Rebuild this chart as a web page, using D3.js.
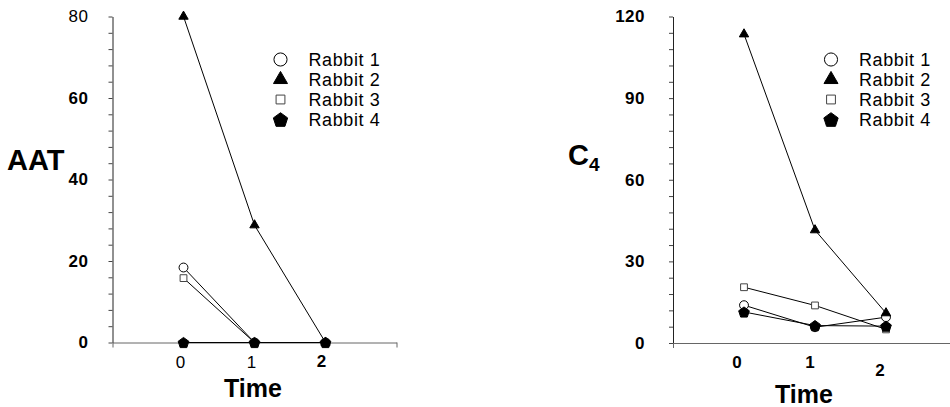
<!DOCTYPE html>
<html>
<head>
<meta charset="utf-8">
<script src="https://cdn.jsdelivr.net/npm/d3@7"></script>
<style>
  body { margin: 0; background: #fff; }
  text { font-family: "Liberation Sans", Arial, sans-serif; }
</style>
</head>
<body>
<div id="chart"></div>
<script>
// data
const times = [0, 1, 2]
const rabbits = ["Rabbit 1", "Rabbit 2", "Rabbit 3", "Rabbit 4"]

const aatRabbit1 = [18.4, 0, 0]
const aatRabbit2 = [80, 28.8, 0]
const aatRabbit3 = [15.8, 0, 0]
const aatRabbit4 = [0, 0, 0]

const c4Rabbit1 = [13.9, 5.8, 9.5]
const c4Rabbit2 = [113.5, 41.5, 11]
const c4Rabbit3 = [20.5, 13.8, 5]
const c4Rabbit4 = [11.4, 6.4, 6.2]

const aatTicks = [0, 20, 40, 60, 80]
const c4Ticks = [0, 30, 60, 90, 120]

const W = 950, H = 407

const svg = d3.select("#chart")
  .append("svg")
  .attr("width", W)
  .attr("height", H)

// pentagon symbol (point up)
const symbolPentagon = {
  draw(context, size) {
    const R = Math.sqrt(size / 2.3776)
    for (let i = 0; i < 5; i++) {
      const a = -Math.PI / 2 + i * 2 * Math.PI / 5
      const px = R * Math.cos(a), py = R * Math.sin(a) + R * 0.1
      if (i === 0) context.moveTo(px, py); else context.lineTo(px, py)
    }
    context.closePath()
  }
}

// marker styles per rabbit
const markers = [
  {type: d3.symbolCircle, size: 62, legendSize: 135, fill: "#fff", stroke: "#000"},
  {type: d3.symbolTriangle, size: 38, legendSize: 85, fill: "#000", stroke: "#000"},
  {type: d3.symbolSquare, size: 46, legendSize: 78, fill: "#fff", stroke: "#444"},
  {type: symbolPentagon, size: 75, legendSize: 135, fill: "#000", stroke: "#000"}
]

const drawPanel = (opt) => {
  const g = svg.append("g")
  const x = d3.scaleLinear().domain([-1, 3]).range([opt.x0, opt.x0 + 284])
  const y = d3.scaleLinear().domain([0, opt.yMax]).range([opt.yBottom, 16.5])

  // y axis with minor ticks
  const yAxis = g.append("g")
    .attr("transform", `translate(${opt.x0}, 0)`)
    .call(d3.axisLeft(y)
      .tickValues(d3.range(0, opt.yMax + 0.001, opt.minor))
      .tickSize(4)
      .tickSizeOuter(0)
      .tickPadding(opt.yPad)
      .tickFormat(d => opt.yTicks.includes(d) ? d : ""))
  yAxis.select(".domain").attr("stroke", "#222")
  yAxis.selectAll(".tick line").attr("stroke", "#444")
  yAxis.selectAll(".tick text")
    .style("font-size", "17px")
    .style("letter-spacing", "0.5px")
    .style("font-weight", d => opt.lightY.includes(d) ? "normal" : "bold")
    .attr("fill", "#000")

  // x axis line with end ticks only
  const xAxis = g.append("g")
    .attr("transform", `translate(0, ${opt.yBottom})`)
    .call(d3.axisBottom(x).tickValues([-1, 3]).tickSize(5).tickSizeOuter(0).tickFormat(""))
  xAxis.select(".domain").attr("stroke", "#666")
  xAxis.selectAll(".tick line").attr("stroke", "#666")

  // x category labels
  g.selectAll(".xlab")
    .data(times)
    .join("text")
    .attr("class", "xlab")
    .attr("x", d => x(d) + opt.xLabDx[d])
    .attr("y", d => opt.yBottom + opt.xLabDy[d])
    .attr("text-anchor", "middle")
    .style("font-size", "17px")
    .style("font-weight", d => opt.lightX.includes(d) ? "normal" : "bold")
    .text(d => d)

  // lines
  const line = d3.line().x((d, i) => x(times[i])).y(d => y(d))
  opt.series.forEach((s) => {
    g.append("path")
      .datum(s)
      .attr("d", line)
      .attr("fill", "none")
      .attr("stroke", "#000")
      .attr("stroke-width", 1)
  })

  // markers
  opt.series.forEach((s, k) => {
    const m = markers[k]
    g.selectAll(null)
      .data(s)
      .join("path")
      .attr("transform", (d, i) => `translate(${x(times[i])}, ${y(d)})`)
      .attr("d", d3.symbol().type(m.type).size(m.size))
      .attr("fill", m.fill)
      .attr("stroke", m.stroke)
      .attr("stroke-width", 1)
  })

  // legend
  const lg = g.append("g").attr("transform", `translate(${opt.legendX}, 59.5)`)
  rabbits.forEach((r, k) => {
    const m = markers[k]
    lg.append("path")
      .attr("transform", `translate(0, ${k * 20})`)
      .attr("d", d3.symbol().type(m.type).size(m.legendSize))
      .attr("fill", m.fill)
      .attr("stroke", m.stroke)
      .attr("stroke-width", 1)
    lg.append("text")
      .attr("x", 28)
      .attr("y", k * 20 + 6.5)
      .style("font-size", "18px")
      .style("letter-spacing", "0.6px")
      .text(r)
  })

  // axis titles
  g.append("text")
    .attr("x", opt.titleX)
    .attr("y", opt.timeY)
    .attr("text-anchor", "middle")
    .style("font-size", "25px")
    .style("font-weight", "bold")
    .text("Time")

  return g
}

const left = drawPanel({
  x0: 112.5, yBottom: 342.5, yMax: 80, minor: 4, yTicks: aatTicks, yPad: 20,
  lightY: [80], lightX: [0, 1],
  xLabDx: {0: -3, 1: -3, 2: -4}, xLabDy: {0: 25, 1: 25, 2: 24},
  series: [aatRabbit1, aatRabbit2, aatRabbit3, aatRabbit4],
  legendX: 280.5, titleX: 253, timeY: 397
})
left.append("text")
  .attr("x", 7)
  .attr("y", 170)
  .style("font-size", "29px")
  .style("font-weight", "bold")
  .text("AAT")

const right = drawPanel({
  x0: 673, yBottom: 343, yMax: 120, minor: 6, yTicks: c4Ticks, yPad: 24,
  lightY: [], lightX: [],
  xLabDx: {0: -7, 1: -5, 2: -6}, xLabDy: {0: 25, 1: 25, 2: 33},
  series: [c4Rabbit1, c4Rabbit2, c4Rabbit3, c4Rabbit4],
  legendX: 831, titleX: 804, timeY: 403
})
const c4 = right.append("text")
  .attr("x", 568)
  .attr("y", 165)
  .style("font-size", "29px")
  .style("font-weight", "bold")
c4.append("tspan").text("C")
c4.append("tspan").attr("dy", 6).style("font-size", "19px").text("4")
</script>
</body>
</html>
